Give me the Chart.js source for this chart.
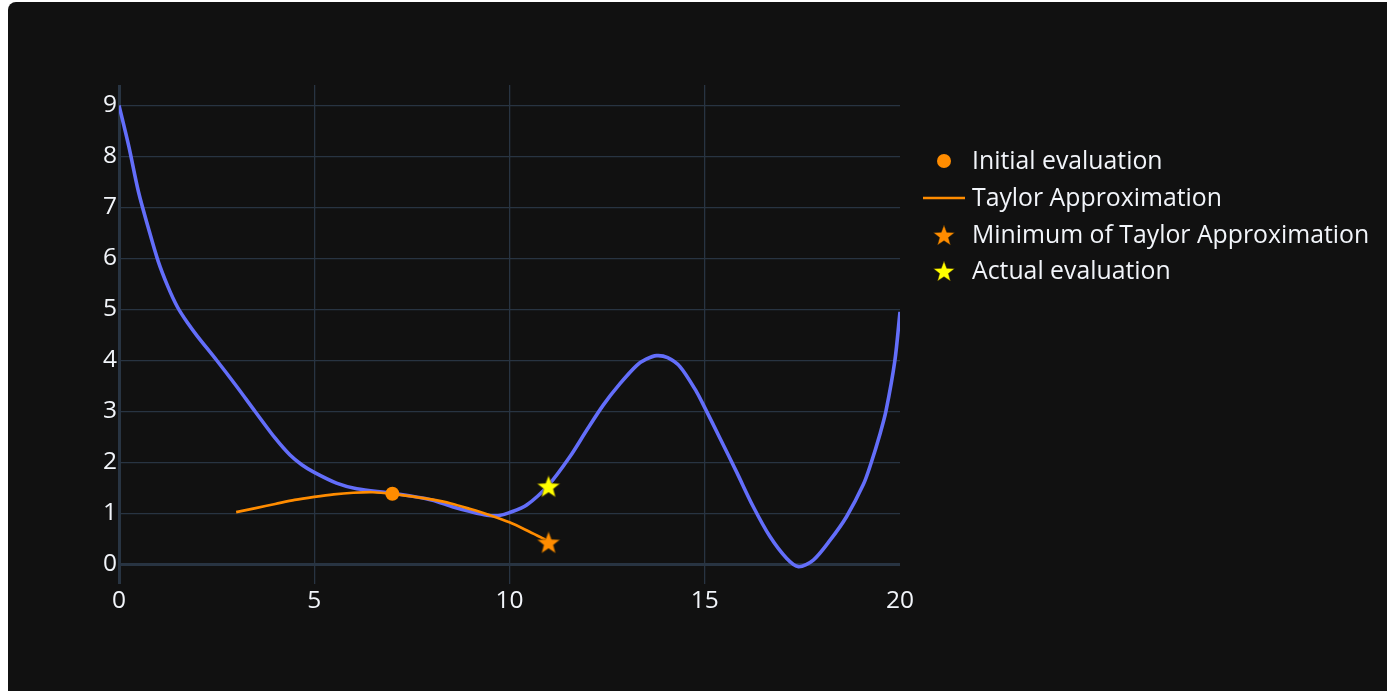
<!DOCTYPE html>
<html>
<head>
<meta charset="utf-8">
<script src="https://cdn.jsdelivr.net/npm/chart.js@4/dist/chart.umd.min.js"></script>
<style>
  html, body { margin: 0; padding: 0; background: #ffffff; width: 1387px; height: 691px; overflow: hidden; }
  #panel { position: absolute; left: 8px; top: 2px; width: 1400px; height: 700px; background: #111111; border-radius: 8px; }
  #wrap { position: absolute; left: 0; top: 0; width: 1387px; height: 691px; }
</style>
</head>
<body>
<div id="panel"></div>
<div id="wrap"><canvas id="c" width="1387" height="691"></canvas></div>
<script>
// ---- Data ----
const funcX = [0, 0.25, 0.5, 0.75, 1.0, 1.25, 1.5, 1.75, 2.0, 2.5, 3.0, 3.5, 4.0, 4.38, 4.68, 5.0, 5.57, 6.09, 7.0, 8.0, 8.56, 9.0, 9.42, 9.71, 10.0, 10.44, 11.0, 11.55, 11.98, 12.4, 12.83, 13.26, 13.5, 13.77, 14.05, 14.37, 14.79, 15.0, 15.39, 15.82, 16.24, 16.67, 17.1, 17.4, 17.78, 18.21, 18.63, 19.06, 19.25, 19.49, 19.64, 19.87, 20.0];
const funcY = [9.0, 8.2, 7.3, 6.6, 5.95, 5.45, 5.04, 4.74, 4.48, 4.0, 3.5, 2.98, 2.47, 2.14, 1.95, 1.8, 1.59, 1.48, 1.39, 1.26, 1.12, 1.03, 0.96, 0.95, 1.01, 1.16, 1.55, 2.11, 2.63, 3.12, 3.54, 3.9, 4.02, 4.09, 4.05, 3.87, 3.38, 3.07, 2.47, 1.8, 1.13, 0.54, 0.11, -0.05, 0.08, 0.47, 0.93, 1.56, 1.96, 2.56, 3.0, 4.0, 4.95];

const taylorX = [3, 3.5, 4, 4.5, 5, 5.5, 6, 6.5, 7, 7.5, 8, 8.5, 9, 9.5, 10, 10.5, 11];
const taylorY = [1.02, 1.10, 1.18, 1.26, 1.32, 1.37, 1.40, 1.41, 1.38, 1.33, 1.27, 1.19, 1.08, 0.96, 0.82, 0.64, 0.45];

const initialPoint = [7, 1.38];
const minTaylorPoint = [11, 0.43];
const actualPoint = [11, 1.53];

const legendLabels = ["Initial evaluation", "Taylor Approximation", "Minimum of Taylor Approximation", "Actual evaluation"];

const BLUE = '#636efa';
const ORANGE = '#ff8c00';
const YELLOW = '#ffff00';
const TEXT = '#f2f5fa';
const GRID = '#283442';
const FONT = "'Open Sans', 'DejaVu Sans', sans-serif";
const FSIZE = 24.5;
const LSIZE = 24.8;

function makeStar(color, outer) {
  const inner = outer * 0.42;
  const size = Math.ceil(outer * 2 + 4);
  const cv = document.createElement('canvas');
  cv.width = size; cv.height = size;
  const g = cv.getContext('2d');
  const cx = size / 2, cy = size / 2 + outer * 0.1;
  g.beginPath();
  for (let i = 0; i < 10; i++) {
    const r = i % 2 === 0 ? outer : inner;
    const a = -Math.PI / 2 + i * Math.PI / 5;
    const px = cx + r * Math.cos(a), py = cy + r * Math.sin(a);
    if (i === 0) g.moveTo(px, py); else g.lineTo(px, py);
  }
  g.closePath();
  g.fillStyle = color; g.fill();
  g.lineWidth = 0.8; g.strokeStyle = 'rgba(60,40,0,0.6)'; g.stroke();
  return cv;
}
const starOrange = makeStar(ORANGE, 12);
const starYellow = makeStar(YELLOW, 12);
const starOrangeL = makeStar(ORANGE, 11);
const starYellowL = makeStar(YELLOW, 11);

const toPts = (xs, ys) => xs.map((x, i) => ({x: x, y: ys[i]}));

const legendPlugin = {
  id: 'customLegend',
  afterDraw(chart) {
    const ctx = chart.ctx;
    ctx.save();
    const mx = 944, tx = 972;
    const ys = [161, 198, 235, 271];
    ctx.font = LSIZE + 'px ' + FONT;
    ctx.textBaseline = 'middle';
    ctx.textAlign = 'left';
    legendLabels.forEach((lab, i) => {
      const y = ys[i];
      if (i === 0) {
        ctx.beginPath(); ctx.arc(mx, y, 7, 0, Math.PI * 2); ctx.fillStyle = ORANGE; ctx.fill();
      } else if (i === 1) {
        ctx.beginPath(); ctx.moveTo(923, y); ctx.lineTo(965, y);
        ctx.strokeStyle = ORANGE; ctx.lineWidth = 2.7; ctx.stroke();
      } else {
        const s = i === 2 ? starOrangeL : starYellowL;
        ctx.drawImage(s, mx - s.width / 2, y - s.height / 2);
      }
      ctx.fillStyle = TEXT;
      ctx.fillText(lab, tx, y + 1);
    });
    ctx.restore();
  }
};

const gridColor = (ctx) => (ctx.tick && ctx.tick.value === 20) ? 'rgba(0,0,0,0)' : GRID;
const gridWidth = (ctx) => (ctx.tick && ctx.tick.value === 0) ? 3 : 1.3;

new Chart(document.getElementById('c'), {
  type: 'scatter',
  data: {
    datasets: [
      { label: 'f', data: toPts(funcX, funcY), showLine: true, borderColor: BLUE, borderWidth: 3.6,
        pointRadius: 0, tension: 0.3, order: 5 },
      { label: legendLabels[1], data: toPts(taylorX, taylorY), showLine: true, borderColor: ORANGE, borderWidth: 2.7,
        pointRadius: 0, tension: 0.3, order: 4 },
      { label: legendLabels[0], data: [{x: initialPoint[0], y: initialPoint[1]}], backgroundColor: ORANGE, borderWidth: 0,
        pointRadius: 7, pointStyle: 'circle', order: 3 },
      { label: legendLabels[2], data: [{x: minTaylorPoint[0], y: minTaylorPoint[1]}], pointStyle: starOrange, pointRadius: 12, order: 2 },
      { label: legendLabels[3], data: [{x: actualPoint[0], y: actualPoint[1]}], pointStyle: starYellow, pointRadius: 12, order: 1 }
    ]
  },
  options: {
    responsive: false,
    animation: false,
    events: [],
    layout: { padding: { top: 85, right: 487, left: 0, bottom: 0 } },
    plugins: { legend: { display: false }, tooltip: { enabled: false } },
    scales: {
      x: {
        type: 'linear', min: 0, max: 20,
        ticks: { stepSize: 5, includeBounds: false, color: TEXT, font: { family: FONT, size: FSIZE }, padding: 2, maxRotation: 0 },
        grid: { color: gridColor, lineWidth: gridWidth, drawTicks: false },
        border: { display: false },
        afterFit: (s) => { s.height = 107; }
      },
      y: {
        type: 'linear', min: -0.39, max: 9.4,
        ticks: { stepSize: 1, includeBounds: false, color: TEXT, font: { family: FONT, size: FSIZE }, padding: 2 },
        grid: { color: GRID, lineWidth: gridWidth, drawTicks: false },
        border: { display: false },
        afterFit: (s) => { s.width = 119; }
      }
    }
  },
  plugins: [legendPlugin]
});
</script>
</body>
</html>
